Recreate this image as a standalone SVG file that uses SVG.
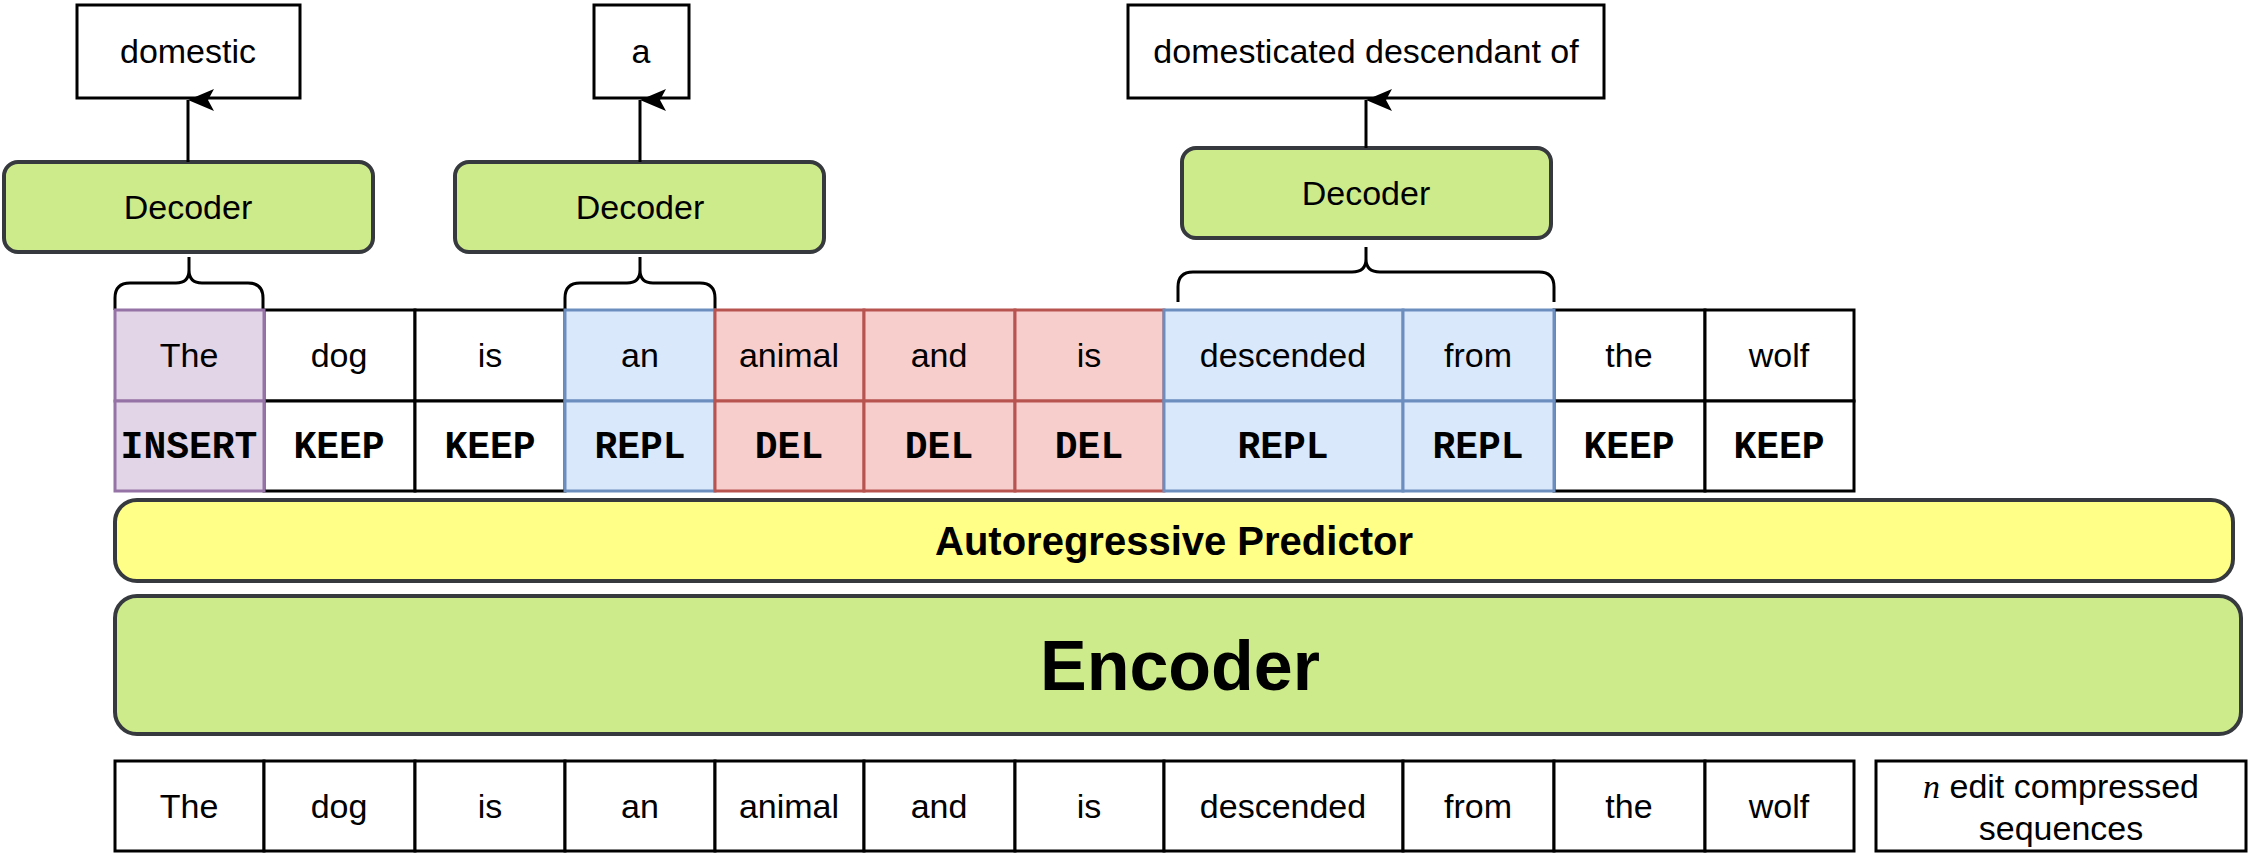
<svg xmlns="http://www.w3.org/2000/svg" width="2250" height="858" viewBox="0 0 2250 858">
<defs>
<style>
text{font-family:"Liberation Sans",Arial,sans-serif;font-size:34px;text-anchor:middle;fill:#000}
.mono{font-family:"Liberation Mono","Courier New",monospace;font-weight:bold;font-size:38px}
.box{fill:#fff;stroke:#000;stroke-width:3}
.dec{fill:#cdeb8b;stroke:#36393d;stroke-width:4}
.w{fill:#fff;stroke:#000;stroke-width:3}
.p{fill:#e1d5e7;stroke:#9673a6;stroke-width:3}
.b{fill:#dae8fc;stroke:#6c8ebf;stroke-width:3}
.r{fill:#f8cecc;stroke:#b85450;stroke-width:3}
.con{fill:none;stroke:#000;stroke-width:3}
</style>
<marker id="ah" markerUnits="userSpaceOnUse" markerWidth="24" markerHeight="30" viewBox="0 0 24 30" refX="12" refY="2" orient="auto-start-reverse">
<path d="M12,2 L23,28 L12,22 L1,28 Z" fill="#000"/>
</marker>
</defs>
<g id="out1"><rect class="box" x="77" y="5" width="223" height="93"/><text x="188" y="63">domestic</text></g>
<g id="out2"><rect class="box" x="594" y="5" width="95" height="93"/><text x="641" y="63">a</text></g>
<g id="out3"><rect class="box" x="1128" y="5" width="476" height="93"/><text x="1366" y="63">domesticated descendant of</text></g>
<g id="dec1"><rect class="dec" x="4" y="162" width="369" height="90" rx="14"/><text x="188" y="219">Decoder</text></g>
<g id="dec2"><rect class="dec" x="455" y="162" width="369" height="90" rx="14"/><text x="640" y="219">Decoder</text></g>
<g id="dec3"><rect class="dec" x="1182" y="148" width="369" height="90" rx="14"/><text x="1366" y="205">Decoder</text></g>
<g id="connectors">
<line class="con" x1="188" y1="162" x2="188" y2="100" marker-end="url(#ah)"/>
<line class="con" x1="640" y1="162" x2="640" y2="100" marker-end="url(#ah)"/>
<line class="con" x1="1366" y1="148" x2="1366" y2="100" marker-end="url(#ah)"/>
<path class="con" d="M115,310 V298 Q115,283 130,283 H176 Q189,283 189,270 V257 M189,270 Q189,283 202,283 H248 Q263,283 263,298 V310"/>
<path class="con" d="M565,310 V298 Q565,283 580,283 H627 Q640,283 640,270 V257 M640,270 Q640,283 653,283 H700 Q715,283 715,298 V310"/>
<path class="con" d="M1178,302 V287 Q1178,272 1193,272 H1352 Q1366,272 1366,259 V247 M1366,259 Q1366,272 1380,272 H1539 Q1554,272 1554,287 V302"/>
</g>
<g id="table">
<rect class="w" x="264" y="310" width="151" height="91"/><rect class="w" x="264" y="401" width="151" height="90"/>
<rect class="w" x="415" y="310" width="150" height="91"/><rect class="w" x="415" y="401" width="150" height="90"/>
<rect class="w" x="1554" y="310" width="151" height="91"/><rect class="w" x="1554" y="401" width="151" height="90"/>
<rect class="w" x="1705" y="310" width="149" height="91"/><rect class="w" x="1705" y="401" width="149" height="90"/>
<rect class="p" x="115" y="310" width="149" height="91"/><rect class="p" x="115" y="401" width="149" height="90"/>
<rect class="b" x="565" y="310" width="150" height="91"/><rect class="b" x="565" y="401" width="150" height="90"/>
<rect class="r" x="715" y="310" width="149" height="91"/><rect class="r" x="715" y="401" width="149" height="90"/>
<rect class="r" x="864" y="310" width="151" height="91"/><rect class="r" x="864" y="401" width="151" height="90"/>
<rect class="r" x="1015" y="310" width="149" height="91"/><rect class="r" x="1015" y="401" width="149" height="90"/>
<rect class="b" x="1164" y="310" width="239" height="91"/><rect class="b" x="1164" y="401" width="239" height="90"/>
<rect class="b" x="1403" y="310" width="151" height="91"/><rect class="b" x="1403" y="401" width="151" height="90"/>
<text x="189" y="367">The</text><text x="339" y="367">dog</text><text x="490" y="367">is</text><text x="640" y="367">an</text>
<text x="789" y="367">animal</text><text x="939" y="367">and</text><text x="1089" y="367">is</text><text x="1283" y="367">descended</text>
<text x="1478" y="367">from</text><text x="1629" y="367">the</text><text x="1779" y="367">wolf</text>
<text class="mono" x="189" y="458">INSERT</text><text class="mono" x="339" y="458">KEEP</text><text class="mono" x="490" y="458">KEEP</text>
<text class="mono" x="640" y="458">REPL</text><text class="mono" x="789" y="458">DEL</text><text class="mono" x="939" y="458">DEL</text>
<text class="mono" x="1089" y="458">DEL</text><text class="mono" x="1283" y="458">REPL</text><text class="mono" x="1478" y="458">REPL</text>
<text class="mono" x="1629" y="458">KEEP</text><text class="mono" x="1779" y="458">KEEP</text>
</g>
<g id="predictor"><rect x="115" y="500" width="2118" height="81" rx="22" fill="#ffff88" stroke="#36393d" stroke-width="4"/><text x="1174" y="555" style="font-weight:bold;font-size:40px">Autoregressive Predictor</text></g>
<g id="encoder"><rect x="115" y="596" width="2126" height="138" rx="22" fill="#cdeb8b" stroke="#36393d" stroke-width="4"/><text x="1180" y="690" style="font-weight:bold;font-size:70px">Encoder</text></g>
<g id="input">
<rect class="w" x="115" y="761" width="149" height="90"/><rect class="w" x="264" y="761" width="151" height="90"/>
<rect class="w" x="415" y="761" width="150" height="90"/><rect class="w" x="565" y="761" width="150" height="90"/>
<rect class="w" x="715" y="761" width="149" height="90"/><rect class="w" x="864" y="761" width="151" height="90"/>
<rect class="w" x="1015" y="761" width="149" height="90"/><rect class="w" x="1164" y="761" width="239" height="90"/>
<rect class="w" x="1403" y="761" width="151" height="90"/><rect class="w" x="1554" y="761" width="151" height="90"/>
<rect class="w" x="1705" y="761" width="149" height="90"/>
<text x="189" y="818">The</text><text x="339" y="818">dog</text><text x="490" y="818">is</text><text x="640" y="818">an</text>
<text x="789" y="818">animal</text><text x="939" y="818">and</text><text x="1089" y="818">is</text><text x="1283" y="818">descended</text>
<text x="1478" y="818">from</text><text x="1629" y="818">the</text><text x="1779" y="818">wolf</text>
</g>
<g id="note"><rect class="w" x="1876" y="761" width="370" height="90"/>
<text x="2061" y="798"><tspan style="font-family:'Liberation Serif','DejaVu Serif',serif;font-style:italic">n</tspan> edit compressed</text>
<text x="2061" y="840">sequences</text></g>
</svg>
